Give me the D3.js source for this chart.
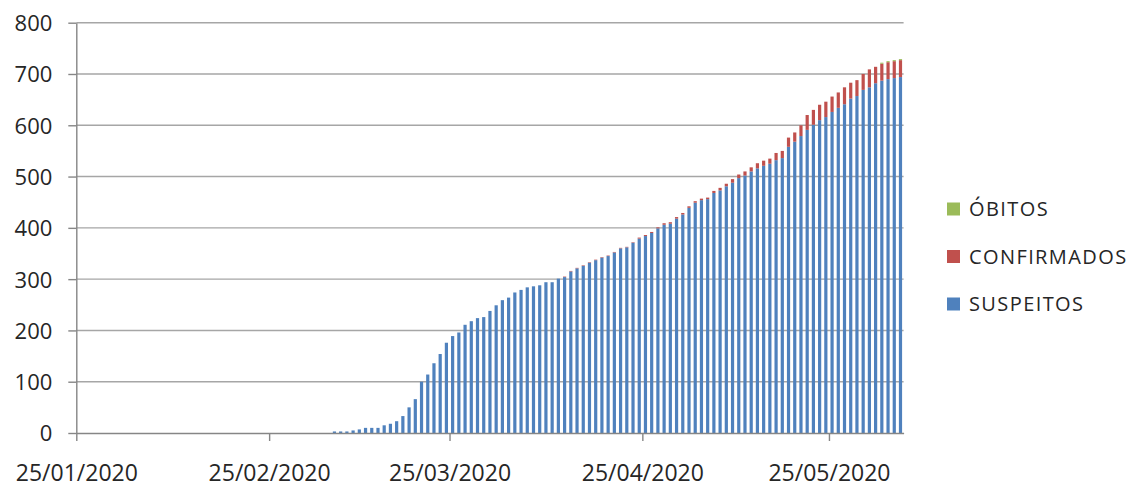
<!DOCTYPE html>
<html>
<head>
<meta charset="utf-8">
<script src="https://cdn.jsdelivr.net/npm/d3@7"></script>
<style>
  body { margin: 0; background: #fff; }
  svg text { font-family: "Open Sans", sans-serif; fill: #262626; }
</style>
</head>
<body>
<div id="visualization"></div>
<script>
// Days with data (dd/mm/yyyy)
var days = [
  "06/03/2020","07/03/2020","08/03/2020","09/03/2020","10/03/2020","11/03/2020","12/03/2020","13/03/2020","14/03/2020","15/03/2020",
  "16/03/2020","17/03/2020","18/03/2020","19/03/2020","20/03/2020","21/03/2020","22/03/2020","23/03/2020","24/03/2020","25/03/2020",
  "26/03/2020","27/03/2020","28/03/2020","29/03/2020","30/03/2020","31/03/2020",
  "01/04/2020","02/04/2020","03/04/2020","04/04/2020","05/04/2020","06/04/2020","07/04/2020","08/04/2020","09/04/2020","10/04/2020",
  "11/04/2020","12/04/2020","13/04/2020","14/04/2020","15/04/2020","16/04/2020","17/04/2020","18/04/2020","19/04/2020","20/04/2020",
  "21/04/2020","22/04/2020","23/04/2020","24/04/2020","25/04/2020","26/04/2020","27/04/2020","28/04/2020","29/04/2020","30/04/2020",
  "01/05/2020","02/05/2020","03/05/2020","04/05/2020","05/05/2020","06/05/2020","07/05/2020","08/05/2020","09/05/2020","10/05/2020",
  "11/05/2020","12/05/2020","13/05/2020","14/05/2020","15/05/2020","16/05/2020","17/05/2020","18/05/2020","19/05/2020","20/05/2020",
  "21/05/2020","22/05/2020","23/05/2020","24/05/2020","25/05/2020","26/05/2020","27/05/2020","28/05/2020","29/05/2020","30/05/2020",
  "31/05/2020",
  "01/06/2020","02/06/2020","03/06/2020","04/06/2020","05/06/2020"
];

var suspeitos = [
  3,3,3,5,7,10,10,10,15,18,23,33,50,66,100,114,136,154,176,189,196,211,218,224,226,238,
  249,259,264,274,279,284,286,288,294,294,301,304,315,321,326,332,337,342,345,352,360,362,371,379,384,390,399,406,408,418,
  426,439,449,454,456,468,473,481,488,497,502,510,516,521,525,532,536,558,568,579,591,601,610,616,626,634,641,652,657,669,674,
  682,687,690,692,694
];

var confirmados = [
  0,0,0,0,0,0,0,0,0,0,0,0,0,0,0,0,0,0,0,0,0,0,0,0,0,0,
  0,0,0,0,0,0,0,0,0,0,0,1,1,1,1,1,1,1,1,1,1,1,1,2,2,2,2,3,3,3,
  3,3,3,3,3,4,5,5,7,7,8,8,10,10,10,14,14,18,18,21,29,29,30,30,30,30,33,31,31,31,35,
  32,33,33,33,33
];

var obitos = [
  0,0,0,0,0,0,0,0,0,0,0,0,0,0,0,0,0,0,0,0,0,0,0,0,0,0,
  0,0,0,0,0,0,0,0,0,0,0,0,0,0,0,0,0,0,0,0,0,0,0,0,0,0,0,0,0,0,
  0,0,0,0,0,0,0,0,0,0,0,0,0,0,0,0,0,0,0,0,0,0,0,0,0,0,0,0,0,0,0,
  0,2,2,2,2
];

var seriesNames = ["SUSPEITOS", "CONFIRMADOS", "ÓBITOS"];
var seriesColors = ["#4f81bd", "#c0504d", "#9bbb59"];
var yTicks = [0, 100, 200, 300, 400, 500, 600, 700, 800];
var xTickDays = ["25/01/2020", "25/02/2020", "25/03/2020", "25/04/2020", "25/05/2020"];
var axisStart = "25/01/2020";
var axisEnd = "06/06/2020";

var parseDay = d3.utcParse("%d/%m/%Y");

var width = 1138, height = 488;
var svg = d3.select("#visualization").append("svg")
  .attr("width", width)
  .attr("height", height);

var x = d3.scaleUtc()
  .domain([parseDay(axisStart), parseDay(axisEnd)])
  .range([76.3, 903.6]);
var y = d3.scaleLinear()
  .domain([0, 800])
  .range([433, 22.7]);

// one day slot, bar is centered in it
var slot = x(parseDay("26/01/2020")) - x(parseDay("25/01/2020"));
var barW = 3.2;

// gridlines
svg.append("g")
  .selectAll("line")
  .data(yTicks.slice(1))
  .enter()
  .append("line")
    .attr("x1", x.range()[0])
    .attr("x2", x.range()[1])
    .attr("y1", function (d) { return y(d); })
    .attr("y2", function (d) { return y(d); })
    .attr("stroke", "#a6a6a6")
    .attr("stroke-width", 1.4);

// stacked bars
var rows = days.map(function (d, i) {
  return { day: parseDay(d), s: suspeitos[i], c: confirmados[i], o: obitos[i] };
});
var stack = d3.stack().keys(["s", "c", "o"]);
var layers = stack(rows);

svg.append("g")
  .selectAll("g")
  .data(layers)
  .enter()
  .append("g")
    .attr("fill", function (d, i) { return seriesColors[i]; })
  .selectAll("rect")
  .data(function (d) { return d.filter(function (p) { return p[1] > p[0]; }); })
  .enter()
  .append("rect")
    .attr("x", function (p) { return x(p.data.day) + slot / 2 - barW / 2; })
    .attr("width", barW)
    .attr("y", function (p) { return y(p[1]); })
    .attr("height", function (p) { return y(p[0]) - y(p[1]); });

// y axis
var yAxis = svg.append("g")
  .attr("transform", "translate(" + x.range()[0] + ",0)")
  .call(d3.axisLeft(y).tickValues(yTicks).tickSize(8).tickPadding(16).tickSizeOuter(0));
yAxis.selectAll("text").style("font-size", "22px").attr("dy", "0.36em");

// x axis
var xAxis = svg.append("g")
  .attr("transform", "translate(0," + y(0) + ")")
  .call(d3.axisBottom(x)
    .tickValues(xTickDays.map(parseDay))
    .tickFormat(d3.utcFormat("%d/%m/%Y"))
    .tickSize(8)
    .tickSizeOuter(0));
xAxis.selectAll("text").style("font-size", "23px").attr("y", 48).attr("dy", 0);

svg.selectAll(".domain, .tick line").attr("stroke", "#868686").attr("stroke-width", 1.4);

// legend, top to bottom: obitos, confirmados, suspeitos
var legend = svg.append("g").attr("transform", "translate(947,0)");
var legendRows = [2, 1, 0];
legendRows.forEach(function (k, i) {
  var cy = 209 + i * 47.5;
  legend.append("rect")
    .attr("x", 0)
    .attr("y", cy - 6.5)
    .attr("width", 13)
    .attr("height", 13)
    .attr("fill", seriesColors[k]);
  legend.append("text")
    .attr("x", 22)
    .attr("y", cy)
    .attr("dy", "0.36em")
    .style("font-size", "20px")
    .style("letter-spacing", "1.4px")
    .text(seriesNames[k]);
});
</script>
</body>
</html>
